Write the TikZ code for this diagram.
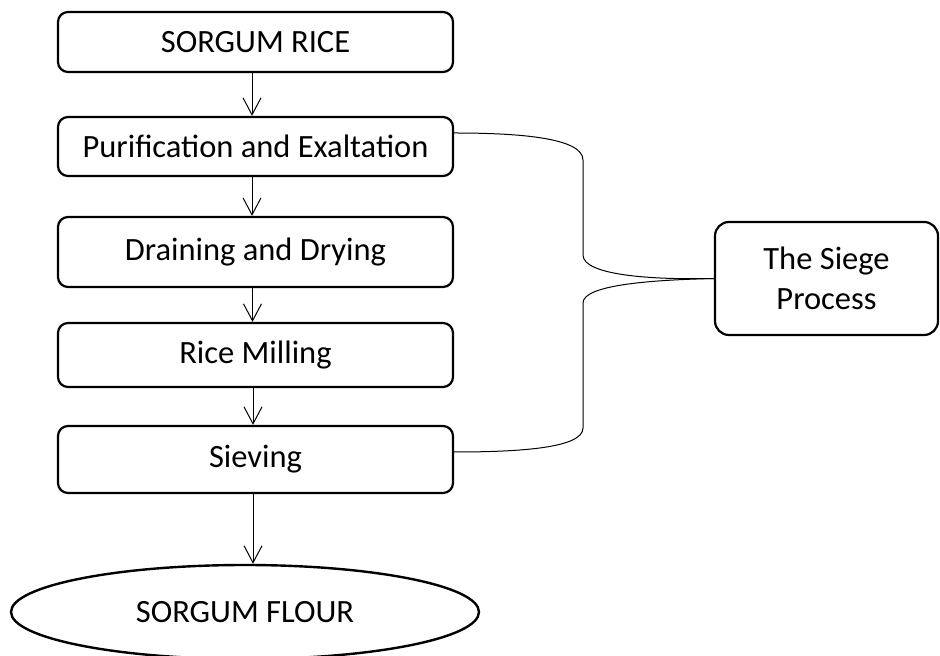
\documentclass[tikz,border=0pt]{standalone}
\usepackage{fontspec}
\setmainfont{Carlito}
\usetikzlibrary{arrows.meta,shapes.geometric}
\begin{document}
\begin{tikzpicture}[x=0.5pt,y=-0.5pt,
  every node/.style={font=\fontsize{16.25pt}{19.8pt}\selectfont},
  stepbox/.style={draw, line width=1.1pt, rounded corners=5pt, minimum width=197.5pt, inner sep=0pt},
  sidebox/.style={draw, line width=1.1pt, rounded corners=7pt, minimum width=111.5pt, minimum height=56.5pt, align=center, inner sep=0pt},
  endshape/.style={draw, ellipse, line width=1.2pt, minimum width=234pt, minimum height=47pt, inner sep=0pt},
  flow/.style={line width=0.5pt, -{Straight Barb[length=8.5pt,width=9pt,line width=0.5pt]}},
  link/.style={line width=0.5pt}
]
\useasboundingbox (0,0) rectangle (940,656);
\node[stepbox, minimum height=30pt] (rice) at (255.5,42) {SORGUM RICE};
\node[stepbox, minimum height=29.5pt] (pur) at (255.5,146.5) {Purification and Exaltation};
\node[stepbox, minimum height=35pt] (drain) at (255.5,252) {Draining and Drying};
\node[stepbox, minimum height=32pt] (mill) at (255.5,355) {Rice Milling};
\node[stepbox, minimum height=33.5pt] (sieve) at (255.5,459.5) {Sieving};
\node[endshape] (flour) at (245,612) {SORGUM FLOUR};
\node[sidebox] (siege) at (826.5,278.5) {The Siege\\Process};

\draw[flow] ([xshift=-1.75pt]rice.south) -- ([xshift=-1.75pt]pur.north);
\draw[flow] ([xshift=-1.75pt]pur.south) -- ([xshift=-1.75pt]drain.north);
\draw[flow] ([xshift=-1.5pt]drain.south) -- ([xshift=-1.5pt]mill.north);
\draw[flow] ([xshift=-1.25pt]mill.south) -- ([xshift=-1.25pt]sieve.north);
\draw[flow] ([xshift=-1.25pt]sieve.south) -- ([xshift=4pt]flour.north);

\draw[link] ([yshift=6.75pt]pur.east) .. controls (520,133) and (583,138) .. (583,160)
  -- (583,255) .. controls (583,275) and (650,280) .. (siege.west);
\draw[link] ([yshift=3.75pt]sieve.east) .. controls (520,452) and (583,448) .. (583,428)
  -- (583,303) .. controls (583,285) and (650,280) .. (siege.west);
\end{tikzpicture}
\end{document}
